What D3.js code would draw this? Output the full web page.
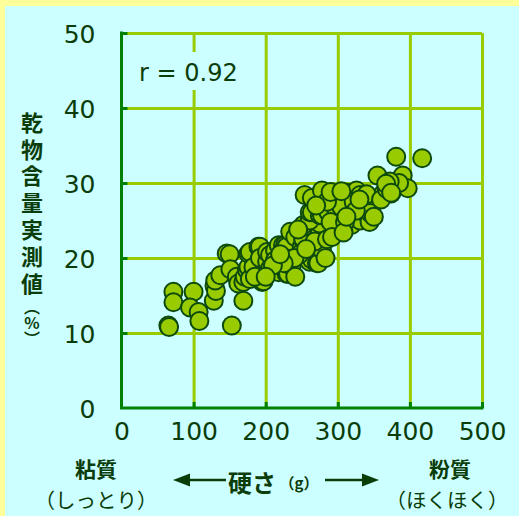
<!DOCTYPE html>
<html><head><meta charset="utf-8">
<script src="https://cdn.jsdelivr.net/npm/d3@7"></script>
<style>body{margin:0;} svg{display:block;}</style>
</head><body>
<div id="chart"></div>
<script>
// Hardness (g)
const hardness = [65,66,72,72,100,95,107,108,153,128,129,131,130,137,169,146,150,151,160,162,169,171,174,176,178,176,178,183,190,192,192,195,197,202,202,206,206,213,213,215,218,218,224,227,229,229,229,231,231,234,236,241,241,250,252,252,254,252,261,261,259,264,271,273,278,275,275,261,261,264,254,264,278,275,278,287,296,298,301,298,298,313,314,317,319,319,326,331,331,335,337,338,344,349,355,363,374,379,381,390,397,417,
245,268,285,290,305,310,322,340,345,285,270,247,240,225,210,185,200,220,256,283,292,308,325,330,350,360,368,385,372,290,305,312,367,374];
// Dry matter content (%)
const dryMatter = [11.0,10.8,15.5,14.1,15.5,13.4,12.8,11.6,11.0,14.3,16.3,15.6,17.0,17.7,14.3,20.6,20.5,18.5,17.5,16.6,16.8,17.5,18.4,18.8,17.2,20.6,20.8,18.8,21.5,21.5,20.0,16.8,16.9,19.5,20.8,20.4,18.6,21.0,19.7,18.4,18.1,21.7,21.7,21.7,17.9,18.4,21.5,19.9,17.9,23.5,18.9,17.5,22.8,21.5,22.4,22.6,24.2,24.4,20.4,19.5,20.4,19.8,19.3,19.3,21.1,23.3,24.6,25.0,26.1,26.1,28.4,28.0,29.0,25.7,25.7,26.1,23.5,24.1,25.5,28.2,25.8,28.7,26.4,25.3,25.5,24.4,29.0,28.4,25.0,27.0,26.1,27.0,24.8,27.3,31.0,28.6,28.6,29.9,33.5,31.0,29.3,33.3,
23.8,22.2,22.5,24.8,26.8,24.8,27.5,28.5,26.0,27.5,27.0,20.5,20.0,19.3,19.0,17.5,17.5,20.5,21.2,20.0,22.8,23.4,26.3,27.8,25.5,27.8,29.2,30.0,30.2,28.8,28.9,25.5,29.9,28.7];
const xTicks = [0,100,200,300,400,500];
const yTicks = [0,10,20,30,40,50];
const yTitle = "乾物含量実測値";
const yTitleUnit = "（%）";

const W = 519, H = 516;
const dark = "#0a3d0a", grid = "#99cc00", axisCol = "#008000";
const svg = d3.select("#chart").append("svg").attr("width", W).attr("height", H);
svg.append("rect").attr("width", W).attr("height", H).attr("fill", "#ffff99");
svg.append("rect").attr("x", 5).attr("y", 6).attr("width", W - 5).attr("height", H - 6).attr("fill", "#ccffff");

const x = d3.scaleLinear().domain([0, 500]).range([121.5, 482]);
const y = d3.scaleLinear().domain([0, 50]).range([408, 33]);

// grid
const g = svg.append("g");
g.append("g").attr("transform", `translate(0,${y(0)})`)
  .call(d3.axisBottom(x).tickValues(xTicks.slice(1)).tickSize(-(y(0) - y(50))).tickFormat(""))
  .call(s => { s.select(".domain").remove(); s.selectAll("line").attr("stroke", grid).attr("stroke-width", 3); });
g.append("g").attr("transform", `translate(${x(0)},0)`)
  .call(d3.axisLeft(y).tickValues(yTicks.slice(1)).tickSize(-(x(500) - x(0))).tickFormat(""))
  .call(s => { s.select(".domain").remove(); s.selectAll("line").attr("stroke", grid).attr("stroke-width", 3); });

// inner dark ticks
g.append("g").attr("transform", `translate(0,${y(0)})`)
  .call(d3.axisBottom(x).tickValues(xTicks.slice(1)).tickSize(-6).tickFormat(""))
  .call(s => { s.select(".domain").remove(); s.selectAll("line").attr("stroke", axisCol).attr("stroke-width", 3); });
g.append("g").attr("transform", `translate(${x(0)},0)`)
  .call(d3.axisLeft(y).tickValues(yTicks.slice(1)).tickSize(-6).tickFormat(""))
  .call(s => { s.select(".domain").remove(); s.selectAll("line").attr("stroke", axisCol).attr("stroke-width", 3); });

// axis lines
svg.append("path").attr("d", `M${x(0)},${y(50)}V${y(0)}H${x(500)}`)
  .attr("fill", "none").attr("stroke", axisCol).attr("stroke-width", 3).attr("stroke-linecap", "square");

// r label box
svg.append("rect").attr("x", 135).attr("y", 52).attr("width", 100).attr("height", 38).attr("fill", "#ccffff");
svg.append("text").attr("x", 139).attr("y", 81).attr("font-family", "DejaVu Sans, sans-serif")
  .attr("font-size", 24).attr("fill", dark).text("r = 0.92");

// points
const pts = hardness.map((h, i) => [h, dryMatter[i]]);
svg.append("g").selectAll("circle").data(pts).join("circle")
  .attr("cx", d => x(d[0])).attr("cy", d => y(d[1])).attr("r", 9)
  .attr("fill", "#99cc00").attr("stroke", "#0d4a0d").attr("stroke-width", 2);

// tick labels
svg.append("g").attr("transform", `translate(${x(0)},0)`)
  .call(d3.axisLeft(y).tickValues(yTicks).tickSize(0).tickPadding(26))
  .call(s => { s.select(".domain").remove();
    s.selectAll("text").attr("font-family", "DejaVu Sans, sans-serif").attr("font-size", 25)
     .attr("fill", dark).attr("dy", "0.36em"); });
svg.append("g").attr("transform", `translate(0,${y(0)})`)
  .call(d3.axisBottom(x).tickValues(xTicks).tickSize(0).tickPadding(0))
  .call(s => { s.select(".domain").remove();
    s.selectAll("text").attr("font-family", "DejaVu Sans, sans-serif").attr("font-size", 25)
     .attr("fill", dark).attr("y", 23).attr("dy", "0.36em"); });

// y title (vertical writing)
const cjk = "'Noto Sans CJK JP', sans-serif";
svg.append("text").attr("x", 32).attr("y", 111.5)
  .style("writing-mode", "vertical-rl").style("letter-spacing", "4.8px")
  .attr("font-family", cjk).attr("font-weight", "bold").attr("font-size", 22)
  .attr("fill", dark).text(yTitle);
svg.append("text").attr("x", 32).attr("y", 299)
  .style("writing-mode", "vertical-rl").style("text-orientation", "upright")
  .attr("font-family", cjk).attr("font-weight", "bold").attr("font-size", 16)
  .attr("fill", dark).text(yTitleUnit);

// bottom labels
function lab(t, cx, cy, size, weight) {
  svg.append("text").attr("x", cx).attr("y", cy).attr("text-anchor", "middle").attr("dominant-baseline", "central")
    .attr("font-family", cjk).attr("font-weight", weight).attr("font-size", size).attr("fill", dark).text(t);
}
lab("粘質", 96, 468, 21, "bold");
lab("（しっとり）", 96, 498.5, 20.5, "normal");
lab("粉質", 450, 468, 21, "bold");
lab("（ほくほく）", 447, 498.5, 20.5, "normal");
lab("硬さ", 252, 481, 24, "bold");
lab("（g）", 299, 482, 15, "bold");

// arrows
svg.append("line").attr("x1", 186).attr("x2", 226).attr("y1", 480).attr("y2", 480).attr("stroke", dark).attr("stroke-width", 2.5);
svg.append("path").attr("d", "M173,480L190,473.5L190,486.5Z").attr("fill", dark);
svg.append("line").attr("x1", 325).attr("x2", 366).attr("y1", 480).attr("y2", 480).attr("stroke", dark).attr("stroke-width", 2.5);
svg.append("path").attr("d", "M379,480L362,473.5L362,486.5Z").attr("fill", dark);
</script>
</body></html>
